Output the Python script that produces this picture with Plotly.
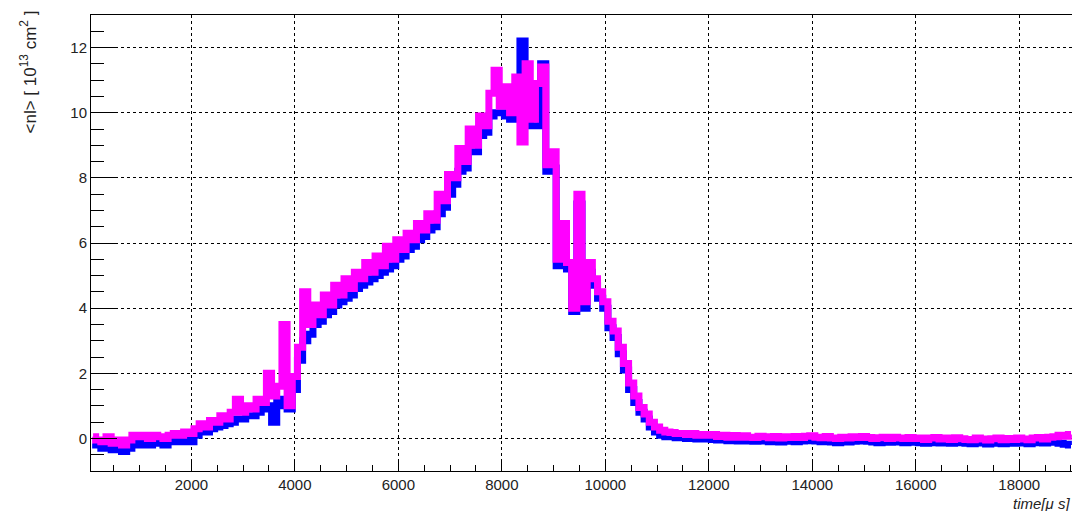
import plotly.graph_objects as go

# bin centres (microseconds)
time_us = list(range(100, 19001, 100))

# <nl> in 10^13 cm^2 - upper (magenta) curve
nl_magenta = [
    0.05, -0.05, -0.1, 0.05, -0.15, -0.05, -0.2, -0.05, 0.1, 0.05,
    0.1, 0.0, 0.1, 0.05, 0.0, 0.1, 0.15, 0.1, 0.2, 0.15,
    0.3, 0.45, 0.35, 0.55, 0.5, 0.7, 0.6, 0.8, 1.2, 0.8,
    1.0, 0.9, 1.2, 1.1, 2.0, 1.3, 1.6, 3.5, 1.0, 1.9,
    2.8, 4.5, 3.5, 4.1, 3.8, 4.4, 4.1, 4.7, 4.4, 4.9,
    4.6, 5.1, 4.9, 5.4, 5.1, 5.6, 5.3, 5.9, 5.5, 6.1,
    5.8, 6.3, 6.1, 6.6, 6.4, 6.9, 6.7, 7.5, 7.3, 8.1,
    8.0, 8.9, 8.5, 9.5, 9.0, 9.9, 9.6, 10.6, 11.3, 10.2,
    10.8, 10.0, 11.1, 9.1, 11.5, 9.8, 10.9, 11.4, 8.4, 8.8,
    5.5, 6.6, 5.4, 4.0, 7.5, 4.2, 5.4, 4.9, 4.5, 4.2,
    3.6, 3.3, 2.8, 2.3, 1.7, 1.3, 0.95, 0.75, 0.5, 0.35,
    0.25, 0.2, 0.18, 0.15, 0.15, 0.12, 0.15, 0.1, 0.12, 0.1,
    0.12, 0.06, 0.1, 0.04, 0.09, 0.04, 0.08, 0.04, 0.03, 0.07,
    0.05, 0.02, 0.06, 0.01, 0.05, 0.03, 0.06, 0.03, 0.07, 0.08,
    0.04, 0.02, 0.06, 0.01, 0.0, 0.04, 0.01, 0.05, 0.03, 0.06,
    0.03, 0.0, 0.02, 0.04, 0.0, 0.04, 0.01, 0.0, 0.03, 0.0,
    0.01, -0.03, 0.01, 0.03, -0.02, 0.01, -0.03, 0.02, -0.01, -0.03,
    -0.04, 0.01, -0.02, -0.05, -0.01, 0.01, -0.04, 0.0, -0.03, 0.01,
    -0.02, -0.04, 0.01, 0.03, -0.02, 0.04, 0.05, 0.1, 0.07, 0.12,
]

# lower (blue) curve
nl_blue = [
    -0.15, -0.2, -0.3, -0.2, -0.35, -0.3, -0.4, -0.3, -0.15, -0.2,
    -0.1, -0.2, -0.15, -0.15, -0.2, -0.1, -0.05, -0.1, -0.05, -0.1,
    0.1, 0.2, 0.2, 0.3, 0.35, 0.4, 0.45, 0.5, 0.6, 0.6,
    0.7, 0.7, 0.8, 0.9, 1.0, 0.5, 1.2, 1.0, 0.9, 1.5,
    2.4, 3.0, 3.2, 3.5, 3.6, 3.8, 3.9, 4.1, 4.2, 4.3,
    4.4, 4.6, 4.7, 4.8, 4.9, 5.0, 5.1, 5.2, 5.3, 5.5,
    5.6, 5.8, 5.9, 6.1, 6.2, 6.4, 6.5, 6.9, 7.1, 7.5,
    7.8, 8.2, 8.3, 8.8, 8.8, 9.3, 9.4, 9.9, 10.0, 10.0,
    9.9, 9.8, 10.3, 12.2, 10.5, 9.6, 9.6, 11.5, 8.2, 8.3,
    5.3, 6.3, 5.2, 3.9, 7.2, 4.0, 5.1, 4.7, 4.3, 4.0,
    3.4, 3.1, 2.6, 2.1, 1.5, 1.1, 0.8, 0.6, 0.35, 0.2,
    0.1, 0.05, 0.05, 0.02, 0.03, 0.0, 0.02, -0.02, 0.0, -0.02,
    -0.03, -0.05, -0.03, -0.07, -0.05, -0.08, -0.06, -0.08, -0.09, -0.07,
    -0.08, -0.1, -0.08, -0.11, -0.09, -0.08, -0.1, -0.08, -0.07, -0.05,
    -0.08, -0.1, -0.08, -0.11, -0.13, -0.1, -0.11, -0.09, -0.08, -0.07,
    -0.09, -0.11, -0.13, -0.1, -0.12, -0.1, -0.11, -0.13, -0.11, -0.12,
    -0.13, -0.15, -0.13, -0.11, -0.14, -0.13, -0.15, -0.12, -0.13, -0.15,
    -0.16, -0.13, -0.14, -0.17, -0.15, -0.13, -0.16, -0.14, -0.15, -0.13,
    -0.14, -0.16, -0.13, -0.11, -0.14, -0.12, -0.1, -0.15, -0.18, -0.2,
]

x_ticks = [2000, 4000, 6000, 8000, 10000, 12000, 14000, 16000, 18000]
y_ticks = [0, 2, 4, 6, 8, 10, 12]

fig = go.Figure()
fig.add_trace(go.Scatter(x=time_us, y=nl_blue, mode="lines", line_shape="hvh",
                         line=dict(color="#0000ff", width=7), showlegend=False))
fig.add_trace(go.Scatter(x=time_us, y=nl_magenta, mode="lines", line_shape="hvh",
                         line=dict(color="#ff00ff", width=7), showlegend=False))

axis_font = dict(family="Liberation Sans, Arial, sans-serif", size=15, color="#222")

fig.update_xaxes(range=[60, 19020], tickvals=x_ticks, ticktext=[str(v) for v in x_ticks],
                 ticks="inside", ticklen=12, tickcolor="black", tickfont=axis_font,
                 showline=True, linecolor="black", linewidth=1, mirror=True,
                 showgrid=True, gridcolor="black", griddash="dot", gridwidth=1,
                 zeroline=False,
                 minor=dict(ticks="inside", ticklen=6, dtick=500, tick0=0, tickcolor="black", showgrid=False))
fig.update_yaxes(range=[-1, 13], tickvals=y_ticks, ticktext=[str(v) for v in y_ticks],
                 ticks="inside", ticklen=26, tickcolor="black", tickfont=axis_font,
                 showline=True, linecolor="black", linewidth=1, mirror=True,
                 showgrid=True, gridcolor="black", griddash="dot", gridwidth=1,
                 zeroline=False,
                 minor=dict(ticks="inside", ticklen=13, dtick=0.5, tick0=0, tickcolor="black", showgrid=False))

fig.add_annotation(text="<nl> [ 10<sup>13</sup> cm<sup>2</sup> ]", textangle=-90,
                   xref="paper", yref="paper", x=0, y=1, xanchor="right", yanchor="top",
                   xshift=-50, yshift=6, showarrow=False,
                   font=dict(family="Liberation Sans, Arial, sans-serif", size=17, color="#222"))
fig.add_annotation(text="<i>time[μ s]</i>", xref="paper", yref="paper", x=1, y=0,
                   xanchor="right", yanchor="top", yshift=-22, showarrow=False,
                   font=dict(family="Liberation Sans, Arial, sans-serif", size=15, color="#222"))

# the page body adds an 8 px margin, so the figure is drawn 8 px in from the corner
fig.update_layout(width=1072, height=503, margin=dict(l=83, r=8, t=7, b=40),
                  plot_bgcolor="white", paper_bgcolor="white")

fig.write_html("out.html")
